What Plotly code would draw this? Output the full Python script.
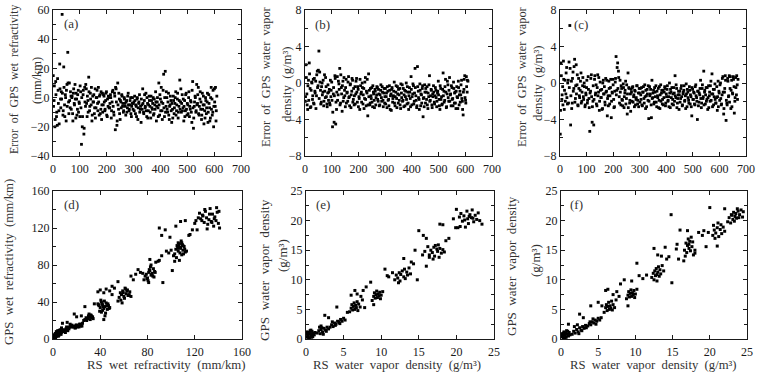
import plotly.graph_objects as go
from plotly.subplots import make_subplots

# ---------------- data ----------------
# (a) error of GPS wet refractivity (mm/km) vs sample number (two interleaved reads)
a_sample = list(range(1, 611, 3))
a_err = [
    15, -2, -20, 11, -13, -19, 5, -9, 23, -1,
    4, 57, -12, 21, -5, 2, -16, 9, 31, -3,
    10, -7, 1, 0, -11, 3, -4, 9, -14, -1,
    -8, 5, -3, -13, 4, -32, -20, 2, -25, 7,
    -6, 6, -13, -2, 14, -9, 3, -5, -16, 1,
    -3, -11, 6, -7, 0, -4, 7, -12, 2, -8,
    -15, 3, -5, 1, -9, -2, 4, -13, -6, 0,
    -7, 2, -14, -3, 5, -10, 3, -22, 6, -19,
    10, -8, -1, -15, -3, 2, -6, -10, 0, -4,
    -12, -2, -7, 3, -9, -5, 0, -13, -4, -8,
    -3, 1, -11, -6, -1, -15, -4, 2, -8, -17,
    -5, 6, -10, -2, -7, 3, -13, -4, -9, 1,
    -6, -14, -2, -8, 0, -11, -5, 4, -16, -3,
    -7, 10, -12, -1, 7, -9, -4, 16, -13, 18,
    -6, 0, -10, 3, -15, -5, -2, -17, -8, 1,
    -11, -4, 4, -9, -1, -14, -6, 12, -3, -10,
    2, -7, -16, -2, -9, 3, -12, -5, 0, -13,
    -8, -3, -17, 11, -21, -6, 1, -10, 9, -4,
    7, -12, -1, -8, -15, 3, -5, -18, -9, 0,
    -11, -3, -17, 2, -7, -14, 7, -1, -10, -20,
    6, -6, -16, 1,
]
a_sample2 = list(range(2, 611, 3))
a_err2 = [
    -6, 8, -15, 2, -10, 13, -4, -18, 6, -7,
    -1, 3, -9, 7, -13, 0, 5, -6, 10, -11,
    -2, 4, -8, 1, -16, 6, -5, -1, 3, -12,
    2, -10, -4, 8, -7, 0, -13, 5, -21, -3,
    9, -4, 1, -10, 4, -6, -1, 7, -12, -3,
    2, -7, -14, 0, 5, -9, -3, 1, -11, 4,
    -5, -10, 2, -3, -8, 3, -12, -1, 1, -7,
    -4, 0, -9, 4, -6, -12, 1, 7, -3, -16,
    -5, 3, -11, -2, -7, 1, -4, -9, -1, -6,
    -3, -10, 1, -5, -8, -2, -11, -6, 0, -4,
    -9, -2, -5, -13, 0, -7, -3, -10, -6, -1,
    -8, -4, -11, 2, -6, -9, 0, -14, -5, -2,
    -10, 1, -7, -4, -12, -1, -8, -3, -6, 0,
    -13, -5, 2, -9, -3, -15, 5, -7, 0, -10,
    4, -8, -3, -12, -6, 1, -9, -4, -14, -2,
    -7, 0, -12, -5, 3, -10, -2, -8, 6, -4,
    -9, -1, -6, -13, 2, -8, -4, -11, 4, -6,
    -2, -10, 5, -7, -14, -3, 0, -9, -5, 2,
    -11, -6, 4, -3, -12, -8, 1, -5, -14, -2,
    -7, 3, -10, -4, -16, 0, -8, -12, 5, -6,
    -3, 7, -9,
]

# (b) error of GPS water vapour density (g/m3) vs sample number
b_sample = list(range(1, 611, 3))
b_err = [
    -2.0, 2.0, -1.2, -2.9, 0.3, 2.2, -0.6, -2.6, 0.1, -1.8,
    0.4, -2.3, -0.9, 0.2, -1.4, 1.3, -0.3, 3.5, 1.2, -0.8,
    -2.1, 0.0, -1.0, -2.5, 0.9, -1.6, -0.4, -2.3, -1.1, -1.9,
    -0.7, -2.4, -1.5, 0.1, -4.8, -1.2, -4.3, 0.8, -4.5, -2.9,
    0.7, -1.3, -0.1, 1.6, -2.2, -0.5, -3.1, 0.2, -1.6, -0.8,
    -2.6, 0.4, -1.1, -2.0, 0.7, -1.5, -0.2, -2.7, -0.9, 0.3,
    -1.8, -2.4, -0.4, -1.2, 0.5, -2.1, -0.7, -1.5, -2.9, -0.3,
    -1.0, 0.0, -2.3, -0.6, -1.7, 0.6, -2.5, -1.1, -3.6, 1.0,
    -0.8, -2.2, -1.4, -0.5, -2.6, -1.0, -1.9, -0.7, -2.4, -1.3,
    -0.5, -2.0, -1.2, -2.4, -0.8, -1.6, -0.4, -1.9, -1.1, -2.2,
    -0.6, -1.5, -2.7, -0.9, -1.8, -0.3, -2.9, -1.2, -0.7, -2.1,
    -1.4, 0.1, -2.5, -1.0, -1.7, -0.4, -2.2, -1.3, -0.6, -2.8,
    -1.1, -0.2, -1.9, -2.6, -0.8, -1.5, 0.0, -2.3, -1.0, -2.9,
    -0.5, -1.7, 0.7, -2.4, -1.2, -0.3, -2.0, 1.6, -1.4, -2.7,
    1.8, -0.9, -1.8, -0.1, -2.5, -1.3, -0.6, -3.7, -1.6, -0.2,
    -2.2, -1.0, -0.4, -2.8, -1.5, 0.8, -1.9, -0.7, -2.4, -1.2,
    -0.3, -2.1, -1.4, -0.8, -2.6, -1.1, 0.2, -1.8, -2.9, -0.6,
    -1.5, -2.3, 1.1, -0.9, -1.9, 0.4, -2.7, -1.2, -0.2, -2.0,
    0.6, -1.3, -2.5, -0.5, -1.7, 0.1, -2.2, -1.0, -2.8, -0.4,
    -1.6, 0.2, -2.4, -0.9, -1.3, 0.3, -2.0, -3.5, -0.7, 0.8,
    -1.9, 0.7, -1.0, 0.2,
]
b_sample2 = list(range(2, 611, 3))
b_err2 = [
    -1.5, 0.6, -2.4, -0.3, -1.9, 1.0, -2.7, -0.8, 0.0, -1.4,
    -2.2, 0.5, -1.1, -2.8, 0.9, -0.5, 1.4, -1.7, 0.1, -2.3,
    -0.4, -1.3, 0.3, -2.0, -0.9, 0.6, -1.5, -2.6, -0.2, -1.0,
    -2.2, 0.3, -0.8, -1.9, -3.2, -0.5, -1.4, 0.5, -2.1, -1.0,
    -1.9, 0.2, -0.7, -2.4, 0.9, -1.2, -0.3, -2.0, 0.6, -1.4,
    -0.5, -2.2, -1.0, 0.1, -1.6, -2.5, -0.1, -1.3, 0.5, -2.1,
    -0.6, -1.4, -2.3, 0.2, -1.0, -0.4, -2.6, -1.7, 0.4, -1.2,
    -2.1, -0.5, -1.3, -2.8, 0.1, -1.8, -0.9, 0.4, -2.4, -1.5,
    -2.4, -0.6, -1.7, -2.1, -0.3, -1.2, -2.7, -0.9, -1.6, -0.4,
    -1.8, -0.7, -2.5, -1.3, -0.2, -2.0, -1.0, -2.6, -0.6, -1.5,
    -2.3, -1.1, -0.4, -1.9, -2.5, -0.8, -1.4, -3.0, -0.5, -1.7,
    -0.9, -2.2, -1.5, -0.3, -2.7, -1.2, -0.7, -1.9, -2.4, -0.1,
    -1.6, -2.0, -0.6, -1.3, -2.5, -0.9, -1.8, -0.4, -2.2, -1.4,
    -1.0, -2.6, -0.7, -1.5, -0.1, -2.3, -1.1, -0.5, -1.9, -2.5,
    -0.4, -1.6, -2.9, -0.8, -1.2, -2.2, -0.3, -1.7, -2.6, -1.0,
    -0.6, -1.8, -2.4, -1.1, -0.2, -2.0, -1.4, -0.8, -2.7, -1.5,
    -1.0, -2.3, -0.5, -1.6, -2.0, -0.9, -1.3, -2.5, -0.3, -1.8,
    -2.4, -0.7, -1.4, -2.1, -0.4, -1.0, -2.6, 0.2, -1.6, -0.8,
    -2.0, -1.2, -0.3, -1.8, -2.5, -0.6, -1.1, -2.2, -0.9, -1.5,
    -2.8, -0.5, -1.3, -2.1, -0.2, -1.7, -2.9, -1.0, 0.4, -1.6,
    -2.2, -0.4, 0.3,
]

# (c) error of GPS water vapour density (g/m3), second method
c_sample = list(range(1, 671, 3))
c_err = [
    -5.6, 2.2, -1.8, -0.4, 2.4, -2.9, 0.3, -1.2, 1.7, -2.3,
    0.3, 2.3, 6.3, -4.6, 0.2, -2.2, 1.2, -0.6, 2.6, -1.7,
    2.0, -0.2, -2.4, 0.5, -1.4, -0.8, 1.1, -2.0, -0.3, -1.5,
    0.0, -2.6, -1.1, -0.5, -2.2, 0.7, -1.7, -5.3, -0.9, 0.9,
    -4.3, -2.0, -4.6, 0.4, -1.3, -0.2, -2.5, 0.9, -1.0, -3.0,
    0.1, -1.6, -0.7, -2.8, 0.3, -1.2, -2.1, 0.5, -0.9, -3.6,
    -1.4, 0.2, -2.3, -0.5, -3.8, -1.0, 0.4, -1.8, -2.6, 0.1,
    2.9, -0.8, 2.2, 1.3, -1.5, 0.3, -2.4, -0.6, -1.9, -0.1,
    -2.7, -1.1, 0.2, -1.7, -3.4, 1.1, -0.5, -2.2, -1.2, -0.7,
    -2.0, -0.4, -1.5, -2.6, -0.9, -1.8, -0.3, -2.3, -1.1, -0.6,
    -2.1, -1.3, -0.5, -2.5, -1.0, -1.7, -0.2, -2.8, -1.4, -0.7,
    -1.9, -3.9, -0.4, -1.2, -2.4, 0.3, -1.6, -0.8, -2.1, -1.0,
    -0.3, -2.6, -1.4, -0.6, -1.9, -2.8, -0.2, -1.1, -2.3, -0.8,
    -1.6, -0.4, -2.5, -1.2, -0.7, -2.0, -1.5, 0.0, -2.7, -1.0,
    -0.5, -1.8, -2.4, -1.1, 0.8, -1.6, -0.6, -2.2, -1.3, -2.9,
    -0.9, -1.7, -0.3, -2.5, -1.2, -0.8, -2.0, -1.4, -0.1, -2.6,
    -1.0, -1.9, -0.4, -2.3, -1.5, -3.6, -0.7, -1.8, -1.1, -2.4,
    -0.2, -1.6, -4.0, -0.9, -2.1, -1.3, 0.3, -2.7, -0.6, -1.7,
    1.3, -1.0, -2.3, -0.5, -1.8, -2.9, -0.3, -1.4, -2.0, 0.2,
    -1.2, -2.6, -0.7, -1.5, -0.1, -2.2, -1.6, -3.0, 0.2, -0.9,
    -1.9, 0.0, -2.4, -1.3, 0.7, -3.4, -1.0, 0.8, -4.1, -2.2,
    0.5, -1.5, 0.8, -0.6, -2.8, 0.3, -1.1, 0.7, -0.4, -2.0,
    0.6, -1.3, -0.2, 0.4,
]
c_sample2 = list(range(2, 671, 3))
c_err2 = [
    -3.0, 0.8, -1.3, -2.4, 0.4, -0.8, -2.0, 1.1, -1.6, 0.0,
    -2.2, -0.5, 1.6, -1.4, -2.8, 0.5, -0.9, 1.8, -2.1, -0.3,
    -1.2, 0.9, -2.5, -0.6, -1.6, 0.2, -2.2, -1.0, 0.6, -1.8,
    -0.4, -2.4, -1.3, 0.3, -1.9, -0.7, -2.7, -1.1, 0.5, -1.5,
    -2.6, -0.3, -1.8, 0.8, -1.1, -2.3, -0.5, -1.4, 0.6, -2.0,
    -0.8, -1.6, -2.9, 0.0, -1.2, -0.4, -2.4, -1.0, 0.3, -1.7,
    -2.5, -0.6, -1.4, 0.4, -2.0, -1.1, -0.2, -2.7, -0.9, 0.5,
    -1.3, 1.7, -0.6, 0.6, -2.2, -1.0, -0.3, -1.8, -2.5, -0.5,
    -1.5, -0.8, -2.3, -0.2, -1.2, -2.7, -0.6, -1.9, -3.1, -1.0,
    -0.5, -2.1, -1.3, -0.8, -2.4, -1.6, -0.3, -1.9, -2.6, -1.1,
    -0.6, -1.8, -2.4, -1.0, -0.4, -2.2, -1.5, -0.8, -2.6, -1.2,
    -0.3, -2.0, -1.4, -0.7, -3.8, -1.7, -1.1, -2.3, -0.5, -1.5,
    -2.1, -0.9, -1.6, -2.7, -0.4, -1.3, -2.0, -0.8, -1.8, -2.4,
    -1.0, -0.6, -2.2, -1.5, -0.3, -1.9, -2.6, -1.1, -0.7, -1.6,
    -2.3, -1.2, -0.5, -2.0, -1.4, -0.2, -2.7, -1.7, -0.9, -1.3,
    -2.1, -0.6, -1.5, -2.4, -1.0, -0.3, -1.9, -2.8, -1.2, -0.7,
    -1.6, -2.2, -0.8, -1.3, -2.6, -0.5, -1.8, -1.0, -2.3, -0.4,
    -1.4, -2.0, -0.9, -2.5, -1.1, -0.6, -1.7, -2.2, -0.2, -1.5,
    -2.4, -0.8, -1.3, -2.0, -0.5, -1.6, -2.7, -1.0, -0.3, -1.9,
    1.0, -1.2, -2.4, -0.7, -1.8, -2.2, -0.4, -1.5, -2.6, -1.1,
    -0.2, -1.7, -2.3, 0.5, -1.0, -2.8, -0.6, 0.3, -1.9, -2.4,
    0.2, -1.4, -2.1, 0.7, -0.8, -2.6, -1.2, 0.4, -3.3, -1.6,
    -0.5, 0.8, -1.8,
]

# (d) RS vs GPS wet refractivity (mm/km): (RS, GPS) pairs
d_pairs = [
    (0.5, 2), (1, 3), (1.5, 5), (2, 4), (2.5, 6), (3, 5), (3.5, 7), (4, 6), (4.5, 3), (5, 8),
    (5.5, 7), (6, 9), (6.5, 6), (7, 8), (7.5, 10), (8, 9), (1, 1), (2, 6), (3, 3), (4, 9),
    (5, 4), (6, 10), (7, 7), (0.8, 4), (1.8, 2), (2.8, 8), (3.8, 5), (4.8, 7), (5.8, 6), (6.8, 5),
    (1.2, 3), (2.2, 1), (4.2, 4), (5.2, 9), (7.2, 12), (8, 17), (9, 8), (10, 9), (11, 11), (12, 10),
    (13, 12), (14, 13), (15, 14), (16, 15), (10.5, 7), (12.5, 9), (14.5, 16), (11.5, 13), (13.5, 11), (15.5, 13),
    (9.5, 10), (12, 18), (18, 27), (20, 24), (17, 13), (18, 14), (19, 12), (20, 15), (21, 14), (22, 13),
    (23, 16), (24, 15), (25, 17), (18.5, 12), (20.5, 13), (22.5, 16), (24.5, 14), (19.5, 15), (23.5, 14), (27, 21),
    (28, 23), (29, 22), (30, 25), (31, 24), (32, 26), (33, 23), (34, 22), (28.5, 20), (30.5, 27), (32.5, 25),
    (29.5, 22), (31.5, 21), (33.5, 24), (26, 20), (27, 35), (24, 25), (38, 38), (39, 36), (40, 34), (41, 40),
    (42, 37), (43, 33), (44, 35), (45, 39), (46, 32), (47, 36), (48, 34), (39.5, 30), (41.5, 38), (43.5, 41),
    (45.5, 36), (47.5, 33), (40.5, 42), (42.5, 35), (44.5, 28), (46.5, 38), (38.5, 37), (43, 21), (44, 25), (42, 31),
    (41, 29), (38, 51), (40, 53), (43, 50), (45, 54), (48, 52), (50, 57), (35, 38), (56, 45), (57, 50),
    (58, 48), (59, 52), (60, 46), (61, 55), (62, 49), (63, 53), (64, 47), (65, 51), (57.5, 42), (59.5, 50),
    (61.5, 54), (63.5, 47), (58.5, 39), (60.5, 44), (62.5, 52), (64.5, 48), (55, 41), (66, 46), (52, 55), (55, 62),
    (66, 68), (70, 70), (72, 75), (68, 64), (74, 72), (76, 71), (50, 48), (78, 68), (79, 70), (80, 66),
    (81, 72), (82, 74), (83, 69), (84, 71), (85, 76), (86, 73), (80.5, 63), (82.5, 78), (84.5, 68), (79.5, 65),
    (81.5, 75), (83.5, 70), (85.5, 67), (77, 64), (86.5, 72), (81, 61), (83, 80), (82, 86), (87, 83), (89, 84),
    (90, 85), (93, 61), (90, 120), (92, 112), (95, 118), (99, 110), (101, 74), (96, 95), (98, 93), (100, 96),
    (103, 84), (92, 90), (103, 92), (104, 97), (105, 101), (106, 95), (107, 103), (108, 99), (109, 104), (110, 96),
    (111, 100), (112, 94), (104.5, 88), (106.5, 100), (108.5, 106), (110.5, 92), (105.5, 98), (107.5, 93), (109.5, 102), (111.5, 97),
    (113, 95), (102, 90), (106, 104), (108, 98), (110, 101), (109, 91), (107, 85), (104, 122), (108, 127), (112, 128),
    (115, 112), (118, 118), (116, 113), (120, 125), (122, 118), (124, 136), (125, 130), (126, 128), (127, 133), (128, 126),
    (129, 138), (130, 131), (131, 124), (132, 129), (133, 141), (134, 127), (135, 135), (136, 122), (137, 132), (138, 128),
    (139, 137), (140, 125), (141, 120), (121, 128), (123, 131), (128.5, 140), (130.5, 119), (132.5, 135), (134.5, 126), (136.5, 130),
    (138.5, 142), (126.5, 134), (140.5, 138),
]

# (e) RS vs GPS water vapour density (g/m3)
e_pairs = [
    (0.1, 0.3), (0.2, 0.8), (0.3, 0.5), (0.4, 1.1), (0.5, 0.2), (0.6, 0.9), (0.7, 0.6), (0.8, 1.3), (0.9, 0.4), (1.0, 1.0),
    (1.1, 0.7), (0.15, 1.2), (0.35, 0.1), (0.55, 1.4), (0.75, 0.3), (0.95, 0.8), (1.2, 1.1), (0.25, 0.6), (0.45, 0.9), (0.65, 1.5),
    (1.5, 1.0), (1.7, 1.4), (1.9, 0.9), (2.0, 1.6), (2.2, 1.2), (2.4, 1.8), (2.6, 1.5), (2.8, 2.0), (3.0, 1.7), (1.8, 2.0),
    (2.3, 0.8), (2.7, 1.3), (2.1, 1.9), (2.5, 4.0), (3.0, 3.6), (2.0, 2.2),
    (3.2, 2.0), (3.4, 2.4), (3.6, 2.1), (3.8, 2.7), (4.0, 2.5), (4.2, 3.0), (4.4, 2.8), (4.6, 3.3), (4.8, 3.0), (5.0, 3.5),
    (3.5, 2.9), (4.5, 2.6), (4.1, 5.4), (5.2, 3.2), (3.9, 2.3),
    (5.8, 4.6), (6.0, 5.2), (6.1, 5.8), (6.2, 4.9), (6.3, 5.5), (6.4, 6.1), (6.5, 5.0), (6.6, 5.7), (6.7, 5.3), (6.8, 6.3),
    (6.9, 4.8), (7.0, 5.9), (7.2, 5.4), (6.0, 7.4), (6.5, 8.2), (6.8, 7.6), (7.3, 7.2), (7.6, 8.2), (8.0, 8.8), (7.8, 5.3),
    (5.5, 4.5), (7.5, 6.6),
    (8.8, 6.5), (9.0, 7.2), (9.1, 7.8), (9.2, 6.9), (9.3, 7.5), (9.4, 8.1), (9.5, 7.0), (9.6, 7.6), (9.7, 7.3), (9.8, 7.9),
    (9.9, 6.8), (10.0, 7.4), (10.2, 8.0), (8.6, 9.6), (9.0, 5.8), (10.5, 11.8), (11.0, 10.5), (10.8, 10.7),
    (11.8, 10.0), (12.0, 10.8), (12.2, 10.3), (12.4, 11.2), (12.5, 9.8), (12.6, 10.9), (12.8, 11.5), (13.0, 10.5), (13.1, 11.8), (13.2, 10.2),
    (13.4, 11.3), (13.5, 10.8), (13.7, 12.0), (12.3, 9.5), (13.9, 11.0), (11.5, 11.2), (13.0, 13.6), (14.0, 13.0), (14.5, 15.0), (14.3, 12.7),
    (16.4, 14.2), (16.6, 15.0), (16.8, 14.6), (17.0, 15.5), (17.1, 14.0), (17.2, 15.8), (17.4, 15.2), (17.5, 14.8), (17.6, 15.9), (17.8, 15.3),
    (18.0, 14.5), (18.2, 15.1), (18.4, 14.7), (16.9, 13.5), (17.7, 13.8), (15.8, 14.8), (16.2, 15.6), (15.0, 18.3), (15.6, 17.5), (16.0, 17.0),
    (14.8, 10.0), (16.0, 12.3), (17.8, 19.4), (18.2, 19.3), (18.6, 16.6), (19.0, 17.0), (15.5, 14.2), (16.4, 13.8),
    (19.6, 20.3), (20.0, 21.9), (20.2, 18.8), (20.4, 20.6), (20.6, 21.2), (20.8, 19.9), (21.0, 20.8), (21.2, 18.9), (21.4, 21.6), (21.5, 20.3),
    (21.6, 19.5), (21.8, 21.0), (22.0, 20.5), (22.1, 21.8), (22.3, 19.8), (22.5, 20.9), (22.7, 20.2), (22.9, 21.3), (23.1, 20.0), (23.4, 19.4),
    (21.1, 20.1), (21.7, 20.7), (22.2, 20.4), (19.9, 18.8), (20.5, 19.0),
]

# (f) RS vs GPS water vapour density (g/m3), second method
f_pairs = [
    (0.1, 0.4), (0.2, 0.9), (0.3, 0.2), (0.4, 1.2), (0.5, 0.6), (0.6, 1.0), (0.7, 0.3), (0.8, 0.8), (0.9, 1.3), (1.0, 0.5),
    (1.1, 1.1), (1.2, 0.7), (0.15, 0.7), (0.35, 1.0), (0.55, 0.1), (0.75, 1.4), (0.95, 0.6), (0.25, 0.5), (0.45, 0.8), (0.65, 0.9),
    (1.5, 0.8), (1.7, 1.3), (1.9, 1.0), (2.1, 1.6), (2.3, 1.2), (2.5, 1.9), (2.7, 1.5), (2.9, 2.1), (3.1, 1.8), (3.3, 2.3),
    (1.8, 2.1), (2.4, 0.9), (2.8, 1.4), (1.0, 2.5), (2.5, 4.2), (3.0, 3.6), (2.2, 2.4), (3.4, 1.9),
    (3.6, 2.2), (3.8, 2.6), (4.0, 2.4), (4.2, 2.9), (4.4, 2.7), (4.6, 3.2), (4.8, 3.0), (5.0, 3.5), (5.2, 3.2), (4.3, 3.4),
    (3.9, 2.9), (4.7, 2.5), (4.0, 5.6), (5.0, 6.2), (5.4, 3.6),
    (5.8, 4.5), (6.0, 5.3), (6.1, 5.8), (6.2, 4.8), (6.3, 5.5), (6.4, 6.2), (6.5, 5.0), (6.6, 5.6), (6.7, 5.2), (6.8, 6.4),
    (6.9, 4.9), (7.0, 5.8), (7.2, 5.3), (6.0, 8.2), (6.3, 8.4), (7.0, 7.5), (7.5, 8.0), (7.8, 7.2), (8.0, 9.3), (8.5, 10.0),
    (7.4, 6.6), (5.5, 5.6),
    (8.8, 6.8), (9.0, 7.4), (9.1, 8.0), (9.2, 7.1), (9.3, 7.7), (9.4, 8.3), (9.5, 7.2), (9.6, 7.8), (9.7, 7.5), (9.8, 8.2),
    (9.9, 7.0), (10.0, 7.6), (10.2, 8.4), (9.0, 5.6), (9.5, 9.8), (10.2, 12.8), (10.5, 10.7), (11.0, 10.2), (11.5, 10.8),
    (12.2, 10.4), (12.4, 11.1), (12.5, 10.0), (12.6, 11.5), (12.7, 10.7), (12.8, 11.9), (12.9, 10.9), (13.0, 11.3), (13.1, 12.2), (13.2, 10.6),
    (13.3, 11.7), (13.4, 11.0), (13.6, 12.4), (12.9, 9.8), (13.8, 11.5), (12.5, 15.3), (13.0, 14.2), (13.5, 14.0), (14.0, 15.5), (14.8, 21.0),
    (14.9, 9.5), (14.2, 13.5), (14.5, 13.9),
    (15.5, 15.2), (15.6, 16.0), (16.0, 18.4), (15.8, 13.5), (16.5, 13.2), (16.6, 15.0), (16.8, 16.2), (16.9, 14.6), (17.0, 15.8), (17.1, 16.9),
    (17.2, 15.3), (17.3, 16.5), (17.4, 14.9), (17.5, 17.2), (17.6, 15.6), (17.7, 16.4), (17.8, 14.2), (18.0, 15.0), (16.7, 14.0), (17.0, 18.3),
    (18.0, 14.5), (18.5, 18.0), (19.0, 17.5), (19.5, 15.6), (17.2, 16.0),
    (20.0, 22.2), (20.5, 19.2), (21.0, 15.7), (20.4, 17.5), (20.6, 18.4), (20.8, 17.9), (21.0, 18.8), (21.2, 17.3), (21.4, 18.5), (21.5, 19.3),
    (21.6, 17.8), (21.8, 18.9), (22.0, 18.2), (21.1, 19.6), (20.7, 17.0), (22.0, 22.0), (19.8, 18.0), (19.2, 18.3),
    (22.4, 19.8), (22.6, 20.5), (22.8, 19.6), (23.0, 20.9), (23.1, 20.2), (23.2, 21.4), (23.4, 20.7), (23.5, 21.2), (23.6, 20.4), (23.8, 21.6),
    (24.0, 21.0), (24.2, 21.8), (24.4, 20.6), (23.3, 19.9), (23.7, 22.0), (24.5, 21.5), (22.9, 21.0), (23.9, 20.5),
]

panel_labels = ["(a)", "(b)", "(c)", "(d)", "(e)", "(f)"]

# ---------------- figure ----------------
W, H = 760, 376
FONT = "Liberation Serif, Times New Roman, serif"
INK = "#1a1a1a"
TITLE_INK = "#333333"
SP = "\u00a0 "  # widened word spacing as in the typeset original

fig = make_subplots(rows=2, cols=3)

series = [
    (a_sample + a_sample2, a_err + a_err2, 1, 1, 2.8),
    (b_sample + b_sample2, b_err + b_err2, 1, 2, 2.8),
    (c_sample + c_sample2, c_err + c_err2, 1, 3, 2.8),
    ([p[0] for p in d_pairs], [p[1] for p in d_pairs], 2, 1, 3),
    ([p[0] for p in e_pairs], [p[1] for p in e_pairs], 2, 2, 3),
    ([p[0] for p in f_pairs], [p[1] for p in f_pairs], 2, 3, 3),
]
for xs, ys, r, c, ms in series:
    fig.add_trace(go.Scatter(x=xs, y=ys, mode="markers",
                             marker=dict(symbol="square", size=ms, color="black", line=dict(width=0)),
                             showlegend=False, hoverinfo="skip"), row=r, col=c)


def hx(px):
    return px / W


def vy(py):
    return 1 - py / H


x_boxes = [(53, 241), (305, 492), (560, 746), (53, 242), (306, 494), (561, 747)]
y_boxes = [(10, 156)] * 3 + [(191, 339)] * 3

ranges_x = [[0, 700]] * 3 + [[0, 160], [0, 25], [0, 25]]
ranges_y = [[-40, 60], [-8, 8], [-8, 8], [0, 160], [0, 25], [0, 25]]
dtx = [100, 100, 100, 40, 5, 5]
dty = [20, 4, 4, 40, 5, 5]

axis_common = dict(showline=True, linecolor=INK, linewidth=1, mirror="ticks",
                   ticks="inside", ticklen=4, tickwidth=1, tickcolor=INK,
                   showgrid=False, zeroline=False,
                   tickfont=dict(family=FONT, size=12, color=INK))

for i in range(6):
    sfx = "" if i == 0 else str(i + 1)
    x0, x1 = x_boxes[i]
    y0, y1 = y_boxes[i]
    fig.layout["xaxis" + sfx].update(domain=[hx(x0), hx(x1)], range=ranges_x[i],
                                     tick0=0, dtick=dtx[i], ticklabelstandoff=2, **axis_common)
    fig.layout["yaxis" + sfx].update(domain=[vy(y1), vy(y0)], range=ranges_y[i],
                                     tick0=0, dtick=dty[i],
                                     minor=dict(ticks="inside", ticklen=3, tickcolor=INK,
                                                dtick=dty[i] / 2, tick0=0),
                                     **axis_common)

annotations = []
label_pos = [(0.05, 0.91), (0.045, 0.90), (0.065, 0.90), (0.048, 0.91), (0.04, 0.91), (0.04, 0.91)]
for i, lab in enumerate(panel_labels):
    sfx = "" if i == 0 else str(i + 1)
    annotations.append(dict(text=lab, xref="x" + sfx + " domain", yref="y" + sfx + " domain",
                            x=label_pos[i][0], y=label_pos[i][1], xanchor="left", yanchor="middle",
                            showarrow=False, font=dict(family=FONT, size=13, color=TITLE_INK)))


def ytitle(words, px, py, size):
    annotations.append(dict(text=SP.join(words), xref="paper", yref="paper", x=hx(px), y=vy(py),
                            xanchor="center", yanchor="middle", textangle=-90, showarrow=False,
                            borderpad=0, font=dict(family=FONT, size=size, color=TITLE_INK)))


def xtitle(words, px, py, size):
    annotations.append(dict(text=SP.join(words), xref="paper", yref="paper", x=hx(px), y=vy(py),
                            xanchor="center", yanchor="middle", showarrow=False,
                            borderpad=0, font=dict(family=FONT, size=size, color=TITLE_INK)))


ytitle(["Error", "of", "GPS", "wet", "refractivity"], 14, 80, 11.8)
ytitle(["(mm/km)"], 37, 81, 12.5)
ytitle(["Error", "of", "GPS", "water", "vapor"], 266, 77, 12.4)
ytitle(["density", "(g/m³)"], 287, 84, 12.8)
ytitle(["Error", "of", "GPS", "water", "vapor"], 522, 77, 12.4)
ytitle(["density", "(g/m³)"], 538, 83, 12.8)
ytitle(["GPS", "wet", "refractivity", "(mm/km)"], 9, 262, 12.8)
ytitle(["GPS", "water", "vapor", "density"], 264, 270, 13.2)
ytitle(["(g/m³)"], 282, 256, 13)
ytitle(["GPS", "water", "vapor", "density"], 511, 266, 13)
ytitle(["(g/m³)"], 535, 261, 13)
xtitle(["RS", "wet", "refractivity", "(mm/km)"], 166, 365, 12.8)
xtitle(["RS", "water", "vapor", "density", "(g/m³)"], 397, 365, 12.8)
xtitle(["RS", "water", "vapor", "density", "(g/m³)"], 653, 365, 12.7)

fig.update_layout(width=W, height=H, autosize=False,
                  margin=dict(l=0, r=0, t=0, b=0, pad=0, autoexpand=False),
                  paper_bgcolor="white", plot_bgcolor="white",
                  annotations=annotations, showlegend=False)

fig.write_html("out.html", config={"displayModeBar": False, "responsive": False},
               post_script="document.body.style.margin='0';document.body.style.padding='0';")
